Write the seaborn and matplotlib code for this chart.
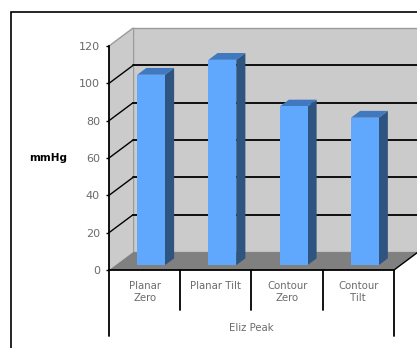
import matplotlib
matplotlib.use("Agg")
import matplotlib.pyplot as plt
from matplotlib.patches import Polygon, Rectangle
import seaborn as sns

# Peak pressure per condition
categories = ["Planar Zero", "Planar Tilt", "Contour Zero", "Contour Tilt"]
tick_labels = ["Planar\nZero", "Planar Tilt", "Contour\nZero", "Contour\nTilt"]
values = [102, 110, 85, 79]
group_label = "Eliz Peak"
y_ticks = [0, 20, 40, 60, 80, 100, 120]
y_label = "mmHg"

FRONT = "#5fa8fd"
SIDE = "#2e5580"
TOP = "#4079c0"
WALL = "#cbcbcb"
FLOOR = "#808080"
TEXT = "#6a6a6a"

sns.set_theme(style="white")
plt.rcParams["font.family"] = ["DejaVu Sans"]

fig = plt.figure(figsize=(4.17, 3.48), dpi=100)
ax = fig.add_axes([109 / 417, 78 / 348, 285 / 417, 224 / 348])
ax.patch.set_visible(False)

# depth of the 3-D box expressed in data units (x: categories, y: mmHg)
DX, DY = 0.337, 9.6
BAR_FRONT, BAR_DEPTH = 0.27, 0.38
X0, X1 = -0.5, len(categories) - 0.5
YMAX = y_ticks[-1]


def pt(x, y, d):
    return (x + d * DX, y + d * DY)


# back wall, left wall and floor
ax.add_patch(Polygon([pt(X0, 0, 1), pt(X1, 0, 1), pt(X1, YMAX, 1), pt(X0, YMAX, 1)],
                     closed=True, fc=WALL, ec="#9a9a9a", lw=1.0, zorder=0, clip_on=False))
ax.add_patch(Polygon([pt(X0, 0, 0), pt(X0, YMAX, 0), pt(X0, YMAX, 1), pt(X0, 0, 1)],
                     closed=True, fc=WALL, ec="none", zorder=0, clip_on=False))
ax.plot(*zip(pt(X0, YMAX, 0), pt(X0, YMAX, 1)), color="#9a9a9a", lw=1.0, zorder=1, clip_on=False)

for v in y_ticks[1:-1]:
    ax.plot(*zip(pt(X0, v, 1), pt(X1, v, 1)), color="black", lw=1.3, zorder=1, clip_on=False)
    ax.plot(*zip(pt(X0, v, 0), pt(X0, v, 1)), color="black", lw=1.0, zorder=1, clip_on=False)

ax.add_patch(Polygon([pt(X0, 0, 0), pt(X1, 0, 0), pt(X1, 0, 1), pt(X0, 0, 1)],
                     closed=True, fc=FLOOR, ec="none", zorder=2, clip_on=False))
ax.plot(*zip(pt(X1, 0, 0), pt(X1, 0, 1)), color="black", lw=1.0, zorder=2, clip_on=False)

# bars: front faces from seaborn, then side and top faces
sns.barplot(x=categories, y=values, color=FRONT, saturation=1, width=0.39,
            linewidth=0, ax=ax, zorder=4)
for patch, v in zip(ax.patches[-len(values):], values):
    x0 = patch.get_x() + BAR_FRONT * DX
    w = patch.get_width()
    b = BAR_FRONT * DY
    patch.set_x(x0)
    patch.set_y(b)
    patch.set_clip_on(False)
    x1 = x0 + w
    ax.add_patch(Polygon([(x1, b), (x1, b + v), (x1 + BAR_DEPTH * DX, b + v + BAR_DEPTH * DY),
                          (x1 + BAR_DEPTH * DX, b + BAR_DEPTH * DY)],
                         closed=True, fc=SIDE, ec="none", zorder=3, clip_on=False))
    ax.add_patch(Polygon([(x0, b + v), (x1, b + v), (x1 + BAR_DEPTH * DX, b + v + BAR_DEPTH * DY),
                          (x0 + BAR_DEPTH * DX, b + v + BAR_DEPTH * DY)],
                         closed=True, fc=TOP, ec="none", zorder=3, clip_on=False))

ax.set_xlim(X0, X1)
ax.set_ylim(0, YMAX)

# axes
for side in ["top", "right"]:
    ax.spines[side].set_visible(False)
for side in ["left", "bottom"]:
    ax.spines[side].set_color("black")
    ax.spines[side].set_linewidth(1.3)
    ax.spines[side].set_zorder(5)

ax.set_yticks(y_ticks)
ax.set_yticklabels([str(t) for t in y_ticks], color=TEXT, fontsize=8)
ax.tick_params(axis="y", left=True, length=2.5, width=1, color="black", pad=4)
ax.set_xticks([])
ax.set_xlabel("")
ax.set_ylabel(y_label, rotation=0, fontsize=7.5, fontweight="bold", color="black",
              ha="center", va="center")
ax.yaxis.set_label_coords(-0.214, 0.5)

# category table under the axis
for i in range(len(categories) + 1):
    lo = -35.5 if i in (0, len(categories)) else -21.5
    ax.plot([X0 + i, X0 + i], [0, lo], color="black", lw=1.3, clip_on=False, zorder=5)
for i, lab in enumerate(tick_labels):
    ax.text(i, -6, lab, ha="center", va="top", fontsize=7.3, color=TEXT,
            linespacing=1.2, clip_on=False)
ax.text((X0 + X1) / 2, -31, group_label, ha="center", va="center", fontsize=7.3,
        color=TEXT, clip_on=False)

# chart border
fig.patches.append(Rectangle((11 / 417, -0.2), 1.5, (348 - 12) / 348 + 0.2,
                             transform=fig.transFigure, fill=False, ec="black", lw=1.2))

fig.savefig("out.png", dpi=100)
